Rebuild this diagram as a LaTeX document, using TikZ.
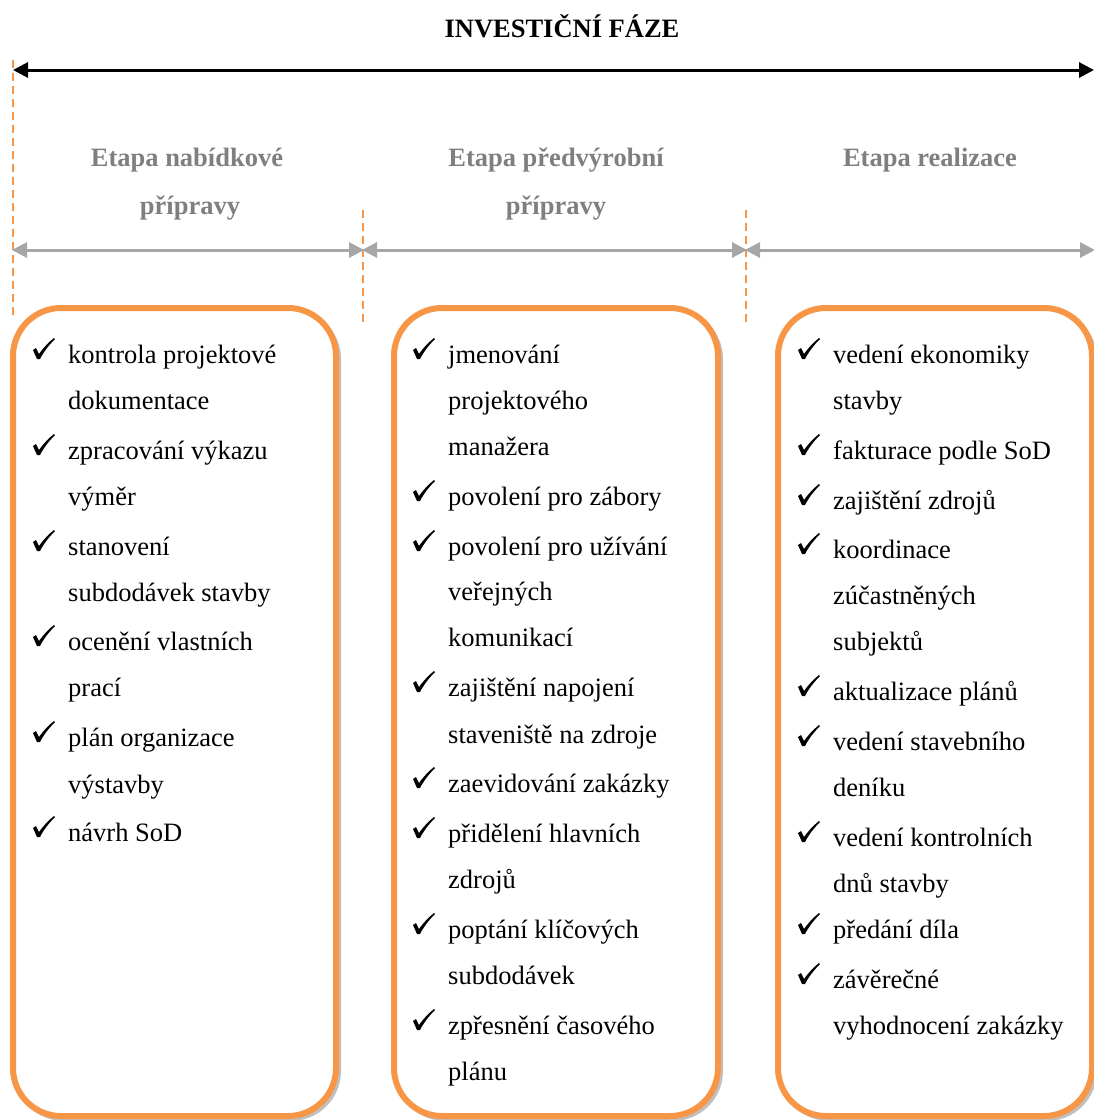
\documentclass[tikz,border=0pt]{standalone}
\usepackage{fontspec}
\setmainfont{Liberation Serif}
\usetikzlibrary{arrows.meta}
\definecolor{boxorange}{HTML}{F79646}
\definecolor{arrowgray}{HTML}{A6A6A6}
\definecolor{headgray}{HTML}{7F7F7F}
\definecolor{shadowgray}{HTML}{C0C0C0}

\begin{document}
\begin{tikzpicture}[x=1pt,y=-1pt,
  body/.style={anchor=base west, inner sep=0pt, font=\fontsize{26.5}{30}\selectfont},
  head/.style={anchor=base, inner sep=0pt, text=headgray, font=\bfseries\fontsize{26.5}{30}\selectfont},
  title/.style={anchor=base, inner sep=0pt, font=\bfseries\fontsize{26.5}{30}\selectfont},
  divider/.style={boxorange, line width=2pt, dash pattern=on 8pt off 5pt},
  phasearrow/.style={black, line width=3pt, {Triangle[length=15pt,width=15pt]}-{Triangle[length=15pt,width=15pt]}},
  stagearrow/.style={arrowgray, line width=3pt, {Triangle[length=15pt,width=15pt]}-{Triangle[length=15pt,width=15pt]}, shorten <=-1pt, shorten >=-1pt},
  listbox/.style={draw=boxorange, fill=white, line width=6pt, rounded corners=48pt},
  boxshadow/.style={shadowgray, line width=4pt, rounded corners=48pt},
  tick/.pic={\fill (-5,-9) .. controls (-4,-10) .. (-2,-11) -- (1,-5)
      .. controls (6,-12) and (11,-17) .. (16,-21) -- (17,-20)
      .. controls (10,-13) and (5,-6) .. (2,0) -- (-1,0) -- cycle;}
]
\useasboundingbox (0,0) rectangle (1094,1120);
\clip (0,0) rectangle (1094,1120);

% title and overall phase arrow
\node[title] (title) at (562,37) {INVESTIČNÍ FÁZE};
\coordinate (pL) at (13,70);
\coordinate (pR) at (1094,70);
\draw[phasearrow] (pL) -- (pR);

% stage dividers
\coordinate (d1t) at (13,60);  \coordinate (d1b) at (13,318);
\coordinate (d2t) at (363,210); \coordinate (d2b) at (363,325);
\coordinate (d3t) at (746,210); \coordinate (d3b) at (746,325);
\draw[divider] (d1t) -- (d1b);
\draw[divider] (d2t) -- (d2b);
\draw[divider] (d3t) -- (d3b);

% stage arrows
\coordinate (s0) at (13,250);
\coordinate (s1) at (363,250);
\coordinate (s2) at (746,250);
\coordinate (s3) at (1094,250);
\draw[stagearrow] (s0) -- (s1);
\draw[stagearrow] (s1) -- (s2);
\draw[stagearrow] (s2) -- (s3);

% stage headings
\node[head] (h1a) at (187,166) {Etapa nabídkové};
\node[head] (h1b) at (190,214) {přípravy};
\node[head] (h2a) at (556,166) {Etapa předvýrobní};
\node[head] (h2b) at (556,214) {přípravy};
\node[head] (h3a) at (930,166) {Etapa realizace};

% list boxes with their shadows
\foreach \xa/\xb in {13/336, 394/718, 778/1092}{
  \draw[boxshadow] (\xa+3,311) rectangle (\xb+3,1119);
  \path[listbox] (\xa,308) rectangle (\xb,1116);
}

% first list
\foreach \y/\t [count=\i] in {363/kontrola projektové, 409/dokumentace,
    459/zpracování výkazu, 505/výměr, 555/stanovení, 601/subdodávek stavby,
    650/ocenění vlastních, 696/prací, 746/plán organizace, 793/výstavby,
    841/návrh SoD}
  \node[body] (a\i) at (68,\y) {\t};
\foreach \y in {363,459,555,650,746,841}
  \pic at (38,\y-4) {tick};

% second list
\foreach \y/\t [count=\i] in {363/jmenování, 409/projektového, 455/manažera,
    505/povolení pro zábory, 555/povolení pro užívání, 600/veřejných,
    646/komunikací, 696/zajištění napojení, 743/staveniště na zdroje,
    792/zaevidování zakázky, 842/přidělení hlavních, 888/zdrojů,
    938/poptání klíčových, 984/subdodávek, 1034/zpřesnění časového, 1080/plánu}
  \node[body] (b\i) at (448,\y) {\t};
\foreach \y in {363,505,555,696,792,842,938,1034}
  \pic at (418,\y-4) {tick};

% third list
\foreach \y/\t [count=\i] in {363/vedení ekonomiky, 409/stavby,
    459/fakturace podle SoD, 509/zajištění zdrojů, 558/koordinace,
    604/zúčastněných, 650/subjektů, 700/aktualizace plánů,
    750/vedení stavebního, 796/deníku, 846/vedení kontrolních, 892/dnů stavby,
    938/předání díla, 988/závěrečné, 1034/vyhodnocení zakázky}
  \node[body] (c\i) at (833,\y) {\t};
\foreach \y in {363,459,509,558,700,750,846,938,988}
  \pic at (803,\y-4) {tick};
\end{tikzpicture}
\end{document}
